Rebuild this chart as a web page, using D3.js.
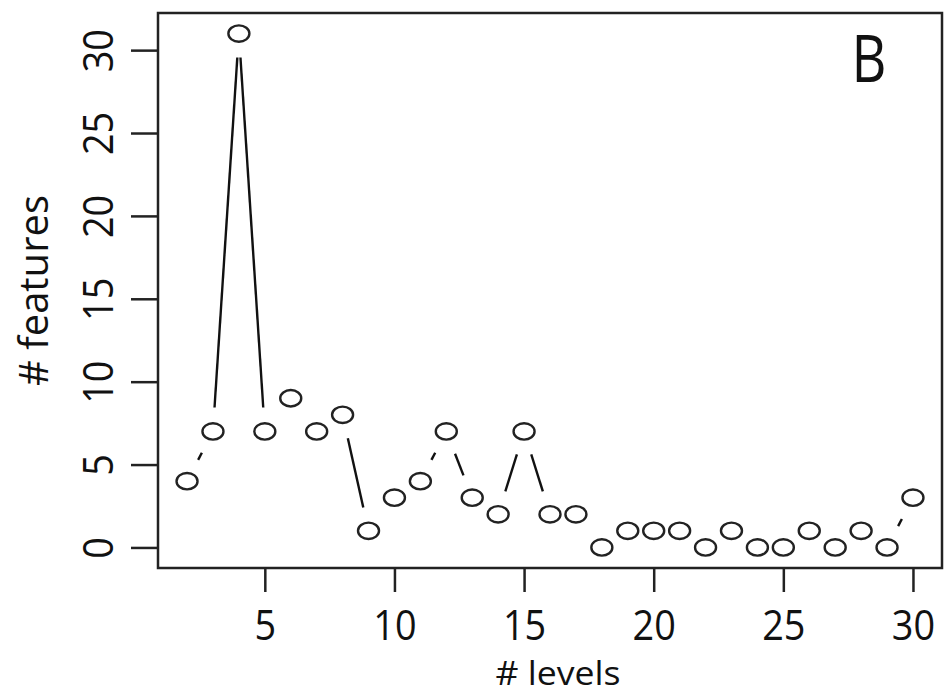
<!DOCTYPE html>
<html><head><meta charset="utf-8">
<script src="https://cdn.jsdelivr.net/npm/d3@7"></script>
<style>body{margin:0;background:#fff}svg{display:block}text{font-family:"Open Sans",sans-serif;fill:#111}</style>
</head><body>
<svg id="c" width="946" height="695"></svg>
<script>
const levels = [2,3,4,5,6,7,8,9,10,11,12,13,14,15,16,17,18,19,20,21,22,23,24,25,26,27,28,29,30];
const features = [4,7,31,7,9,7,8,1,3,4,7,3,2,7,2,2,0,1,1,1,0,1,0,0,1,0,1,0,3];
const xTicks = [5,10,15,20,25,30];
const yTicks = [0,5,10,15,20,25,30];

const svg = d3.select("#c");
const L=158, R=942, T=13, B=568;
const pad = a => { const [lo,hi]=d3.extent(a); const e=(hi-lo)*0.04; return [lo-e, hi+e]; };
const x = d3.scaleLinear().domain(pad(levels)).range([L,R]);
const y = d3.scaleLinear().domain(pad(features)).range([B,T]);
const fs = 42;

// box
svg.append("rect").attr("x",L).attr("y",T).attr("width",R-L).attr("height",B-T)
  .attr("fill","none").attr("stroke","#222").attr("stroke-width",2.5);

// x axis
const xa = svg.append("g").attr("transform",`translate(0,${B})`)
  .call(d3.axisBottom(x).tickValues(xTicks).tickSize(24).tickFormat(d3.format("d")));
xa.select(".domain").remove();
xa.selectAll(".tick line").attr("stroke","#222").attr("stroke-width",2.5);
xa.selectAll(".tick text").attr("font-size",fs).attr("font-family",null).attr("fill","#111")
  .attr("dy",null).attr("y",null)
  .attr("transform","translate(0,72) scale(0.9,1)");

// y axis
const ya = svg.append("g").attr("transform",`translate(${L},0)`)
  .call(d3.axisLeft(y).tickValues(yTicks).tickSize(27).tickFormat(d3.format("d")));
ya.select(".domain").remove();
ya.selectAll(".tick line").attr("stroke","#222").attr("stroke-width",2.5);
ya.selectAll(".tick text").attr("font-size",fs).attr("font-family",null).attr("fill","#111")
  .attr("x",null).attr("dy",null)
  .attr("text-anchor","middle")
  .attr("transform",`translate(${-(L-113)},0) rotate(-90) scale(0.9,1)`);

// axis labels
svg.append("text").attr("x",558).attr("y",685).attr("text-anchor","middle")
  .attr("font-size",33).attr("textLength",125).attr("lengthAdjust","spacingAndGlyphs").text("# levels");
svg.append("text").attr("transform",`translate(48,${(T+B)/2}) rotate(-90)`).attr("text-anchor","middle")
  .attr("font-size",40).text("# features");

// panel letter
svg.append("text").attr("transform","translate(869,82) scale(0.82,1)").attr("text-anchor","middle")
  .attr("font-size",66).text("B");

// type="b" line segments with gaps
const pts = levels.map((l,i)=>[x(l), y(features[i])]);
const g = 24;
const segs = [];
for (let i=0;i<pts.length-1;i++){
  const [x1,y1]=pts[i],[x2,y2]=pts[i+1];
  const len=Math.hypot(x2-x1,y2-y1);
  if (len>2*g){
    const ux=(x2-x1)/len, uy=(y2-y1)/len;
    segs.push([x1+ux*g,y1+uy*g,x2-ux*g,y2-uy*g]);
  }
}
svg.append("g").selectAll("line").data(segs).join("line")
  .attr("x1",d=>d[0]).attr("y1",d=>d[1]).attr("x2",d=>d[2]).attr("y2",d=>d[3])
  .attr("stroke","#111").attr("stroke-width",2.4);

// points
svg.append("g").selectAll("ellipse").data(levels).join("ellipse")
  .attr("cx",d=>x(d)).attr("cy",(d,i)=>y(features[i]))
  .attr("rx",10.5).attr("ry",8.2)
  .attr("fill","none").attr("stroke","#222").attr("stroke-width",2.4);
</script>
</body></html>
